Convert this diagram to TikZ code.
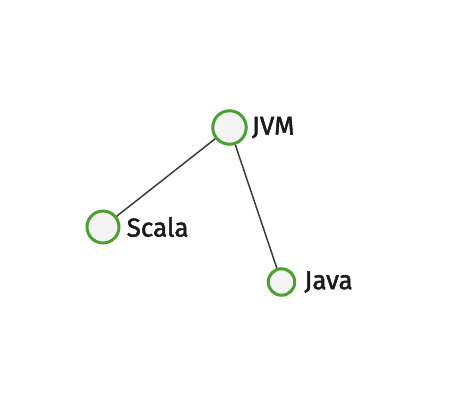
\documentclass[tikz,border=0pt]{standalone}
\usepackage{fontspec}
\setmainfont{Fira Sans}
\newfontfamily\lblfont{Fira Sans}[FakeBold=1.8]
\usetikzlibrary{positioning}
\definecolor{nodegreen}{RGB}{76,160,48}
\definecolor{nodefill}{RGB}{244,244,244}
\definecolor{edgegray}{RGB}{60,60,60}
\definecolor{textblack}{RGB}{25,25,30}
\begin{document}
\begin{tikzpicture}[x=1pt, y=-1pt,
  vert/.style={circle, draw=nodegreen, fill=nodefill, line width=3pt, inner sep=0pt},
  lbl/.style={anchor=west, inner sep=0pt, text=textblack, font=\lblfont\fontsize{26}{28}\selectfont},
  edge/.style={draw=edgegray, line width=1.5pt}]
\useasboundingbox (0,0) rectangle (462,412);
\node[vert, minimum size=33.5pt] (jvm) at (229.5,127.5){};
\node[vert, minimum size=32pt] (scala) at (103,227){};
\node[vert, minimum size=26.5pt] (java) at (281.5,282){};
\node[lbl, right=4pt of jvm] (jvmlbl) {JVM};
\node[lbl, right=6pt of scala] (scalalbl) {Scala};
\node[lbl, right=8pt of java] (javalbl) {Java};
\draw[edge](jvm) -- (scala);
\draw[edge](jvm) -- (java);
\end{tikzpicture}
\end{document}
